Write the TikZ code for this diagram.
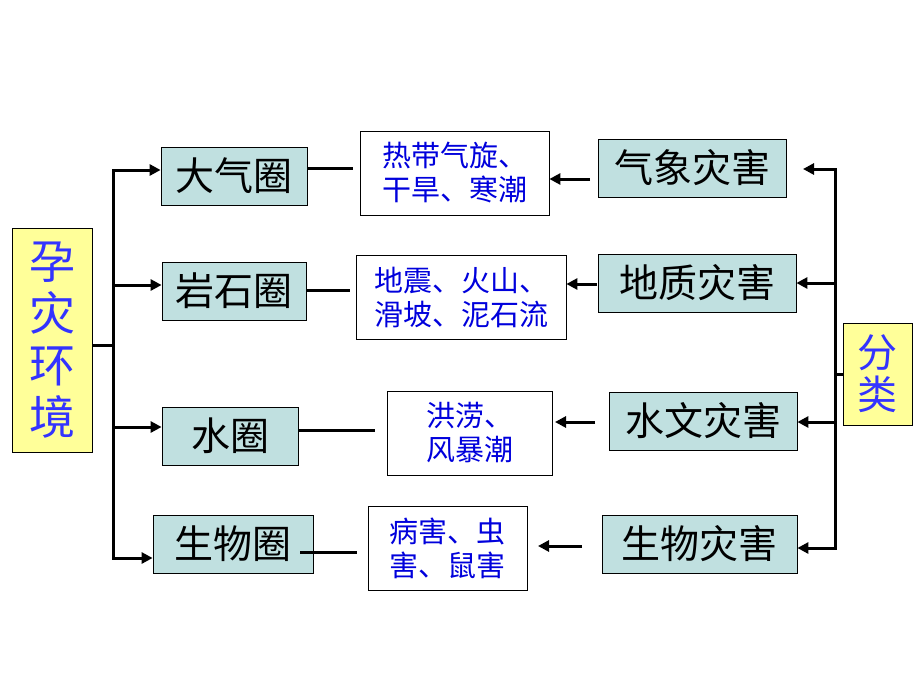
\documentclass[tikz,border=0pt]{standalone}
\usepackage{fontspec}
\newfontfamily\cjk{Noto Sans CJK SC}
\usetikzlibrary{arrows.meta}
\definecolor{teal1}{RGB}{192,224,224}
\definecolor{yel}{RGB}{255,255,153}
\definecolor{bigblue}{RGB}{51,51,255}
\definecolor{txtblue}{RGB}{0,0,220}
\tikzset{
  base/.style={draw=black,line width=0.8pt,inner sep=0pt,align=center},
  cat/.style={base,fill=teal1,minimum height=58pt,font=\cjk\fontsize{39}{44}\selectfont},
  desc/.style={base,fill=white,minimum height=84pt,font=\cjk\fontsize{29}{34}\selectfont,text=txtblue},
  ybox/.style={base,fill=yel,text=bigblue},
  conn/.style={line width=3pt},
  arr/.style={conn,-{Triangle[length=11pt,width=11pt]}}
}
\begin{document}
\begin{tikzpicture}[x=1pt,y=-1pt]
\useasboundingbox[fill=white] (0,0) rectangle (920,690);
% yellow boxes
\node[ybox,minimum width=80pt,minimum height=224pt,font=\cjk\fontsize{46}{52}\selectfont] (yun) at (52,340) {孕\\灾\\环\\境};
\node[ybox,minimum width=69pt,minimum height=102pt,font=\cjk\fontsize{40}{42}\selectfont] (fenlei) at (877.5,374) {分\\类};
% left categories
\node[cat,minimum width=146pt] (dqq) at (234,176) {大气圈};
\node[cat,minimum width=144pt] (ysq) at (234,291) {岩石圈};
\node[cat,minimum width=136pt] (sq) at (230,436) {水圈};
\node[cat,minimum width=160pt] (swq) at (233,544) {生物圈};
% middle descriptions
\node[desc,minimum width=189pt] (w1) at (454.5,173) {热带气旋、\\干旱、寒潮};
\node[desc,minimum width=210pt] (w2) at (461,297) {地震、火山、\\滑坡、泥石流};
\node[desc,minimum width=165pt] (w3) at (469.5,433) {洪涝、\\风暴潮};
\node[desc,minimum width=159pt] (w4) at (447.5,548) {病害、虫\\害、鼠害};
% right categories
\node[cat,minimum width=188pt] (r1) at (692,168) {气象灾害};
\node[cat,minimum width=198pt] (r2) at (697,283) {地质灾害};
\node[cat,minimum width=188pt] (r3) at (703,421) {水文灾害};
\node[cat,minimum width=195pt] (r4) at (699.5,544) {生物灾害};
% left tree
\coordinate (lt) at (113,345);
\draw[conn] (yun.east |- lt) -- (lt);
\draw[arr] (lt) |- (dqq.west |- 0,170);
\draw[arr] (lt) |- (ysq.west |- 0,285);
\draw[arr] (lt) |- (sq.west |- 0,427);
\draw[arr] (lt) |- (swq.west |- 0,558);
% right tree
\coordinate (rt) at (835,374);
\draw[conn] (fenlei.west) -- (rt);
\draw[arr] (rt) |- (803,169);
\draw[arr] (rt) |- (r2.east |- 0,283);
\draw[arr] (rt) |- (r3.east |- 0,422);
\draw[arr] (rt) |- (r4.east |- 0,548);
% middle connectors
\coordinate (m1) at (353,168);
\coordinate (m2) at (350,290);
\coordinate (m3) at (375,430);
\coordinate (m4) at (357,552);
\draw[conn] (dqq.east |- m1) -- (m1);
\draw[conn] (ysq.east |- m2) -- (m2);
\draw[conn] (sq.east |- m3) -- (m3);
\draw[conn] (300,552) -- (m4);
\coordinate (a1) at (590,179);
\coordinate (a2) at (597,284);
\coordinate (a3) at (595,422);
\coordinate (a4) at (582,546);
\draw[arr] (a1) -- (w1.east |- a1);
\draw[arr] (a2) -- (w2.east |- a2);
\draw[arr] (a3) -- (555,422);
\draw[arr] (a4) -- (538,546);
\end{tikzpicture}
\end{document}
